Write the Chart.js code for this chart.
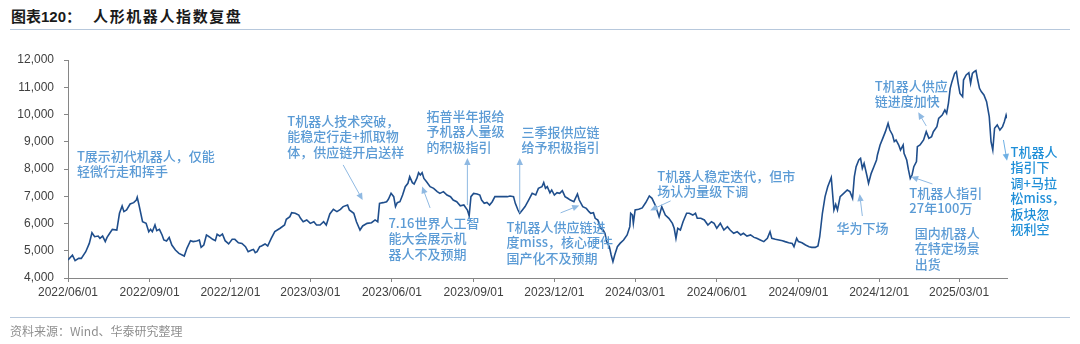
<!DOCTYPE html>
<html>
<head>
<meta charset="utf-8">
<script src="https://cdn.jsdelivr.net/npm/chart.js@4.4.1/dist/chart.umd.min.js"></script>
<style>
  html, body { margin: 0; padding: 0; background: #fff; width: 1080px; height: 344px; overflow: hidden; }
  #wrap { position: relative; width: 1080px; height: 344px; }
  #title { position: absolute; left: 11px; top: 5px; font: bold 15px "Liberation Sans", "Noto Sans CJK SC", sans-serif; color: #1a1a1a; white-space: nowrap; }
  #title .name { margin-left: 12px; letter-spacing: 1.6px; }
  .rule { position: absolute; left: 10px; width: 1060px; height: 1px; background: #b7c8dc; }
  #source { position: absolute; left: 10px; top: 322px; font: 12px "Noto Sans CJK SC", sans-serif; color: #8f8f8f; white-space: nowrap; }
  canvas { position: absolute; left: 0; top: 0; }
</style>
</head>
<body>
<div id="wrap">
  <div id="title">图表120：<span class="name">人形机器人指数复盘</span></div>
  <div class="rule" style="top:29px"></div>
  <canvas id="chart" width="1080" height="344"></canvas>
  <div class="rule" style="top:317px"></div>
  <div id="source">资料来源：Wind、华泰研究整理</div>
</div>
<script>
// Humanoid robot index, calendar days counted from the first date.
const START_DATE = '2022/06/01';

const days = [
  0, 5, 8, 12, 15, 20, 24, 27, 30, 34, 36, 39, 42, 44, 47, 50, 55, 58, 61, 63,
  66, 70, 74, 77, 78, 80, 84, 88, 91, 93, 95, 98, 100, 103, 106, 108, 111, 114, 117, 121,
  125, 131, 134, 138, 141, 145, 148, 150, 153, 156, 159, 163, 166, 168, 171, 174, 177, 181, 185, 188,
  192, 196, 200, 203, 207, 209, 211, 213, 216, 218, 222, 225, 229, 233, 239, 244, 246, 250, 252, 256,
  260, 262, 265, 269, 273, 277, 280, 284, 288, 291, 295, 299, 303, 307, 310, 315, 317, 322, 325, 329,
  332, 337, 342, 346, 349, 351, 355, 359, 361, 364, 367, 369, 371, 374, 377, 380, 383, 385, 388, 390,
  393, 395, 397, 399, 401, 404, 408, 412, 416, 419, 423, 427, 431, 434, 438, 442, 446, 450, 452, 454,
  457, 461, 464, 466, 469, 472, 475, 478, 481, 485, 489, 495, 498, 502, 504, 507, 509, 512, 515, 519,
  523, 527, 530, 534, 536, 538, 540, 543, 545, 548, 551, 554, 557, 560, 563, 566, 570, 574, 576, 580,
  584, 587, 589, 592, 594, 597, 600, 603, 605, 607, 610, 612, 614, 616, 619, 622, 626, 630, 633, 634,
  636, 637, 639, 643, 647, 651, 655, 658, 662, 666, 669, 673, 677, 681, 683, 685, 687, 690, 693, 697,
  700, 704, 707, 709, 713, 717, 721, 725, 728, 731, 735, 739, 743, 746, 750, 754, 758, 761, 765, 769,
  773, 776, 780, 784, 788, 791, 793, 797, 801, 805, 808, 812, 816, 818, 821, 823, 827, 831, 835, 838,
  842, 845, 847, 850, 853, 856, 860, 863, 865, 867, 870, 874, 878, 881, 884, 886, 888, 891, 893, 895,
  897, 900, 902, 905, 908, 911, 912, 915, 918, 921, 924, 926, 929, 931, 933, 936, 938, 941, 942, 945,
  947, 949, 951, 953, 956, 957, 960, 964, 967, 970, 973, 975, 979, 981, 985, 988, 990, 992, 994, 996,
  999, 1001, 1003, 1005, 1008, 1009, 1012, 1015, 1017, 1019, 1021, 1023, 1025, 1027, 1029, 1032, 1035, 1038, 1040, 1042,
  1044, 1047, 1050, 1053, 1055, 1057, 1058
];

const indexValues = [
  4660, 4840, 4635, 4720, 4720, 4965, 5270, 5660, 5515, 5540, 5455, 5540, 5335, 5490, 5640, 5785, 5760, 6375, 6640, 6435,
  6495, 6715, 6765, 6860, 6960, 6680, 6065, 6005, 5700, 5785, 5700, 5945, 5735, 5785, 5580, 5395, 5360, 5490, 5210, 5025,
  4905, 4805, 5090, 5370, 5335, 5360, 5395, 5125, 5210, 5580, 5515, 5420, 5370, 5605, 5540, 5615, 5370, 5250, 5420, 5420,
  5295, 5270, 5150, 4965, 5025, 5050, 4930, 4965, 5150, 5175, 5250, 5175, 5455, 5700, 5825, 5945, 6155, 6250, 6395, 6375,
  6310, 6190, 6065, 6130, 6005, 6065, 5945, 5945, 6065, 5945, 6350, 6520, 6435, 6520, 6620, 6680, 6495, 6375, 6065, 5760,
  5910, 6005, 6030, 6130, 6065, 6740, 6765, 6800, 6890, 7110, 6985, 6620, 6765, 6800, 7045, 7350, 7475, 7720, 7500, 7450,
  7655, 7865, 7780, 7865, 7655, 7535, 7350, 7290, 7170, 7105, 7170, 7045, 6985, 6860, 6800, 6650, 6680, 6495, 6280, 6985,
  7105, 7085, 7045, 6860, 6740, 6775, 6680, 6800, 6985, 6985, 6985, 6985, 7010, 6985, 6740, 6495, 6375, 6495, 6620, 6860,
  7105, 7045, 7290, 7350, 7500, 7290, 7350, 7130, 7230, 7045, 7130, 7105, 7205, 6985, 6925, 6860, 6800, 7085, 6860, 6620,
  6555, 6435, 6375, 6395, 6190, 6130, 5825, 5760, 5640, 5335, 5150, 4845, 4600, 4845, 5150, 5270, 5395, 5580, 5885, 6375,
  6310, 6005, 6495, 6520, 6570, 6770, 7010, 6925, 6650, 6250, 6620, 6310, 6190, 6005, 5825, 5455, 5825, 5760, 6065, 6375,
  6375, 6310, 6375, 6190, 6190, 6130, 5945, 6065, 6005, 5825, 6005, 5760, 5885, 5760, 5640, 5700, 5580, 5640, 5540, 5580,
  5490, 5455, 5395, 5335, 5455, 5700, 5455, 5420, 5395, 5370, 5335, 5295, 5270, 5150, 5455, 5335, 5295, 5210, 5150, 5125,
  5125, 5175, 5515, 6375, 6985, 7350, 7690, 6495, 6700, 6495, 6985, 7105, 7230, 7170, 6925, 7720, 8085, 8330, 8390, 8025,
  8210, 7780, 7475, 7840, 8085, 8330, 8515, 8880, 9125, 9370, 9675, 9430, 9250, 9005, 9065, 8880, 8695, 8880, 8575, 8330,
  7965, 7655, 7780, 8085, 8270, 8820, 8880, 9065, 9370, 9125, 9185, 9370, 9555, 9860, 9980, 10165, 10045, 10410, 10960, 11205,
  11510, 11570, 11145, 10775, 10655, 11265, 11450, 11535, 11145, 11510, 11570, 11610, 11265, 10960, 10840, 10715, 10470, 9920, 9005, 8695,
  9495, 9615, 9430, 9555, 9735, 9980, 9860
];

const tickLabels = [
  '2022/06/01', '2022/09/01', '2022/12/01', '2023/03/01', '2023/06/01', '2023/09/01',
  '2023/12/01', '2024/03/01', '2024/06/01', '2024/09/01', '2024/12/01', '2025/03/01'
];

const yMin = 4000, yMax = 12000, yStep = 1000;

// Event notes: text lines anchored at [day, index level]; optional arrow [fromDay, fromLevel, toDay, toLevel].
const notes = [
  { lines: ['T展示初代机器人，仅能', '轻微行走和挥手'], at: [10, 8480] },
  { lines: ['T机器人技术突破，', '能稳定行走+抓取物', '体，供应链开启送样'], at: [247, 9760], arrow: [310, 8150, 332, 6860] },
  { lines: ['拓普半年报给', '予机器人量级', '的积极指引'], at: [404, 9945], arrow: [450, 6680, 450, 8400] },
  { lines: ['三季报供应链', '给予积极指引'], at: [511, 9360], arrow: [509, 6390, 509, 8400] },
  { lines: ['7.16世界人工智', '能大会展示机', '器人不及预期'], at: [361, 6020], arrow: [408, 6570, 399, 7360] },
  { lines: ['T机器人供应链进', '度miss，核心硬件', '国产化不及预期'], at: [494, 5870], arrow: [555, 6390, 576, 6660] },
  { lines: ['T机器人稳定迭代，但市', '场认为量级下调'], at: [664, 7745], arrow: [679, 6830, 656, 6480] },
  { lines: ['华为下场'], at: [866, 5835], arrow: [895, 6275, 892, 7080] },
  { lines: ['T机器人指引', '27年100万'], at: [948, 7120], arrow: [974, 7450, 950, 7720] },
  { lines: ['国内机器人', '在特定场景', '出货'], at: [954, 5650] },
  { lines: ['T机器人供应', '链进度加快'], at: [909, 11045], arrow: [967, 9580, 958, 10080] },
  { lines: ['T机器人', '指引下', '调+马拉', '松miss，', '板块忽', '视利空'], at: [1062, 8625],
    arrow: [1054, 9065, 1058, 8300], color: '#1f8fd8' }
];

const DAY_MS = 86400000;
const toDay = s => {
  const [y, m, d] = s.split('/').map(Number);
  const [y0, m0, d0] = START_DATE.split('/').map(Number);
  return Math.round((Date.UTC(y, m - 1, d) - Date.UTC(y0, m0 - 1, d0)) / DAY_MS);
};
const tickDays = tickLabels.map(toDay);

const points = days.map((d, i) => ({ x: d, y: indexValues[i] }));

const NOTE_COLOR = '#5b9bd5';
const ARROW_COLOR = '#8fb9e2';
const NOTE_FONT = '500 13px "Noto Sans CJK SC", sans-serif';
const NOTE_LINE = 15.5;

const notesPlugin = {
  id: 'eventNotes',
  afterDatasetsDraw(chart) {
    const { ctx, scales: { x, y } } = chart;
    ctx.save();
    notes.forEach(n => {
      if (n.arrow) {
        const x1 = x.getPixelForValue(n.arrow[0]), y1 = y.getPixelForValue(n.arrow[1]);
        const x2 = x.getPixelForValue(n.arrow[2]), y2 = y.getPixelForValue(n.arrow[3]);
        const ang = Math.atan2(y2 - y1, x2 - x1);
        const len = 7, half = 3.2;
        ctx.strokeStyle = n.color ? '#6fb0e4' : ARROW_COLOR;
        ctx.fillStyle = n.color ? '#6fb0e4' : ARROW_COLOR;
        ctx.lineWidth = 1;
        ctx.beginPath();
        ctx.moveTo(x1, y1);
        ctx.lineTo(x2 - Math.cos(ang) * len * 0.8, y2 - Math.sin(ang) * len * 0.8);
        ctx.stroke();
        ctx.beginPath();
        ctx.moveTo(x2, y2);
        ctx.lineTo(x2 - Math.cos(ang) * len - Math.sin(ang) * half, y2 - Math.sin(ang) * len + Math.cos(ang) * half);
        ctx.lineTo(x2 - Math.cos(ang) * len + Math.sin(ang) * half, y2 - Math.sin(ang) * len - Math.cos(ang) * half);
        ctx.closePath();
        ctx.fill();
      }
      ctx.font = NOTE_FONT;
      ctx.fillStyle = n.color || NOTE_COLOR;
      ctx.textBaseline = 'middle';
      ctx.textAlign = 'left';
      const px = x.getPixelForValue(n.at[0]);
      const py = y.getPixelForValue(n.at[1]);
      n.lines.forEach((t, i) => ctx.fillText(t, px, py + i * NOTE_LINE));
    });
    ctx.restore();
  }
};

const AXIS_COLOR = '#868686';
const LABEL_FONT = { family: '"Liberation Sans", Arial, sans-serif', size: 12 };

new Chart(document.getElementById('chart'), {
  type: 'line',
  data: {
    datasets: [{
      label: '人形机器人指数',
      data: points,
      borderColor: '#1f4e8c',
      borderWidth: 1.6,
      pointRadius: 0,
      tension: 0,
      fill: false
    }]
  },
  options: {
    responsive: false,
    animation: false,
    events: [],
    layout: { padding: { top: 60, right: 73, left: 0, bottom: 0 } },
    plugins: { legend: { display: false }, tooltip: { enabled: false } },
    scales: {
      x: {
        type: 'linear',
        min: 0,
        max: days[days.length - 1],
        afterBuildTicks: s => { s.ticks = tickDays.map(v => ({ value: v })); },
        afterFit: s => { s.height = 66; },
        border: { color: AXIS_COLOR, width: 1 },
        grid: { drawOnChartArea: false, tickLength: 4, color: AXIS_COLOR },
        ticks: {
          autoSkip: false, maxRotation: 0, padding: 3,
          color: '#404040', font: LABEL_FONT,
          callback: (v, i) => tickLabels[i]
        }
      },
      y: {
        min: yMin,
        max: yMax,
        afterFit: s => { s.width = 68; },
        border: { color: AXIS_COLOR, width: 1 },
        grid: { drawOnChartArea: false, tickLength: 4, color: AXIS_COLOR },
        ticks: {
          stepSize: yStep, padding: 10,
          color: '#404040', font: LABEL_FONT,
          callback: v => v.toLocaleString('en-US')
        }
      }
    }
  },
  plugins: [notesPlugin]
});
</script>
</body>
</html>
